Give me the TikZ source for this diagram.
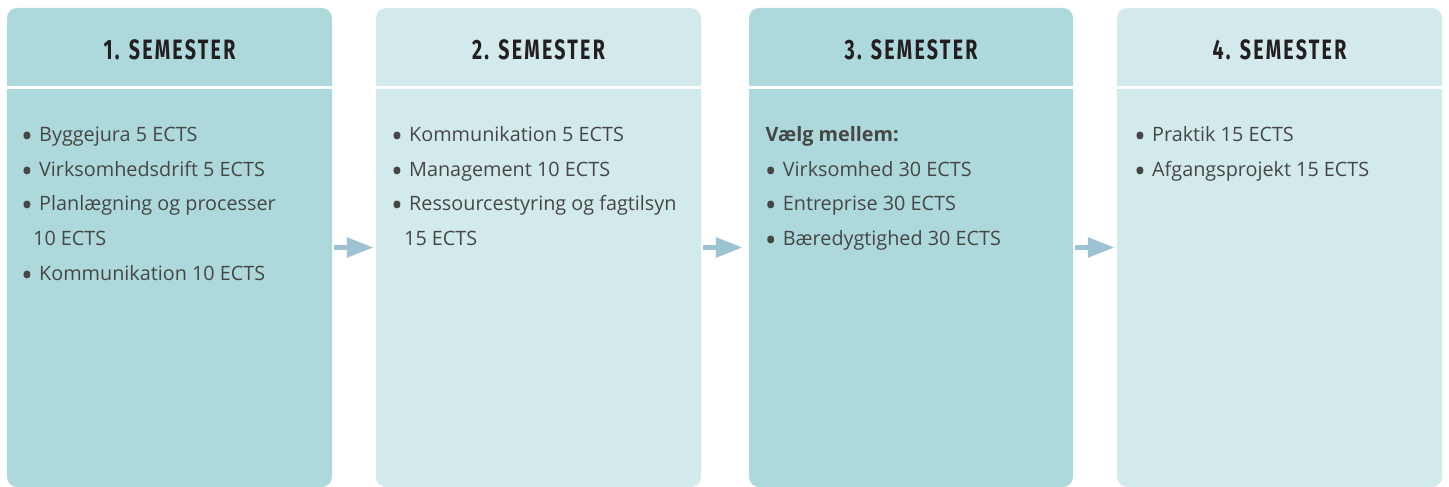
\documentclass[tikz,border=0pt]{standalone}
\usepackage{fontspec}
\setmainfont{Open Sans}
\newfontfamily\headfont[FakeStretch=0.70,LetterSpace=8]{Fira Sans}
\usetikzlibrary{arrows.meta}
\definecolor{tealdark}{RGB}{173,217,220}
\definecolor{teallight}{RGB}{211,234,236}
\definecolor{arrowcol}{RGB}{157,195,211}
\definecolor{bodytext}{RGB}{70,70,69}
\definecolor{headtext}{RGB}{35,31,32}
\newcommand{\bul}[1]{\makebox[18pt][l]{\raisebox{-0.30em}{\scalebox{1.6}{\textbullet}}}#1}
\begin{document}
\begin{tikzpicture}[x=1pt,y=-1pt,
  boxd/.style={rectangle, rounded corners=10pt, minimum height=479pt, inner sep=0pt, fill=tealdark},
  boxl/.style={rectangle, rounded corners=10pt, minimum height=479pt, inner sep=0pt, fill=teallight},
  sepline/.style={draw=white, line width=2.6pt},
  head/.style={anchor=base, inner sep=0pt, text=headtext, font=\headfont\bfseries\fontsize{28}{28}\selectfont},
  item/.style={anchor=base west, inner sep=0pt, text=bodytext, font=\fontsize{19.8}{19.8}\selectfont},
  flow/.style={draw=arrowcol, line width=5.5pt, -{Triangle[length=27pt,width=19pt]}}
]
\useasboundingbox (0,0) rectangle (1449,487);
% boxes
\node[boxd, minimum width=325pt] (b1) at (169.5,247.5) {};
\node[boxl, minimum width=325pt] (b2) at (538.5,247.5) {};
\node[boxd, minimum width=324pt] (b3) at (911,247.5) {};
\node[boxl, minimum width=325pt] (b4) at (1279.5,247.5) {};
% header separators
\coordinate (hs) at (0,87.8);
\draw[sepline] (b1.west |- hs) -- (b1.east |- hs);
\draw[sepline] (b2.west |- hs) -- (b2.east |- hs);
\draw[sepline] (b3.west |- hs) -- (b3.east |- hs);
\draw[sepline] (b4.west |- hs) -- (b4.east |- hs);
% headers
\coordinate (hb) at (0,59.3);
\node[head] (h1) at (b1.center |- hb) {1. SEMESTER};
\node[head] (h2) at (b2.center |- hb) {2. SEMESTER};
\node[head] (h3) at (b3.center |- hb) {3. SEMESTER};
\node[head] (h4) at (b4.center |- hb) {4. SEMESTER};
% box 1
\node[item] (t11) at (21,141.7) {\bul{Byggejura 5 ECTS}};
\node[item] (t12) at (21,176.3) {\bul{Virksomhedsdrift 5 ECTS}};
\node[item] (t13) at (21,210.9) {\bul{Planlægning og processer}};
\node[item] (t14) at (33,245.5) {10 ECTS};
\node[item] (t15) at (21,280.1) {\bul{Kommunikation 10 ECTS}};
% box 2
\node[item] (t21) at (391,141.7) {\bul{Kommunikation 5 ECTS}};
\node[item] (t22) at (391,176.3) {\bul{Management 10 ECTS}};
\node[item] (t23) at (391,210.9) {\bul{Ressourcestyring og fagtilsyn}};
\node[item] (t24) at (404,245.5) {15 ECTS};
% box 3
\node[item, font=\fontsize{19.8}{19.8}\selectfont\bfseries] (t31) at (765.5,141.7) {Vælg mellem:};
\node[item] (t32) at (764.7,176.3) {\bul{Virksomhed 30 ECTS}};
\node[item] (t33) at (764.7,210.9) {\bul{Entreprise 30 ECTS}};
\node[item] (t34) at (764.7,245.5) {\bul{Bæredygtighed 30 ECTS}};
% box 4
\node[item] (t41) at (1134,141.7) {\bul{Praktik 15 ECTS}};
\node[item] (t42) at (1134,176.3) {\bul{Afgangsprojekt 15 ECTS}};
% arrows
\draw[flow] ([xshift=2pt]b1.east) -- ([xshift=-2pt]b2.west);
\draw[flow] ([xshift=2pt]b2.east) -- ([xshift=-6pt]b3.west);
\draw[flow] ([xshift=2pt]b3.east) -- ([xshift=-2pt]b4.west);
\end{tikzpicture}
\end{document}
